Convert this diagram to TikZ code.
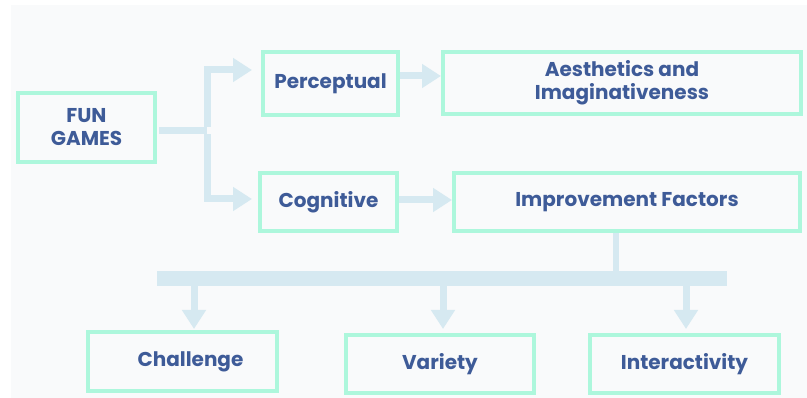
\documentclass[tikz,border=0pt]{standalone}
\usepackage{fontspec}
\setmainfont{Poppins}
\usetikzlibrary{arrows.meta}
\definecolor{mint}{HTML}{ADF7DC}
\definecolor{ink}{HTML}{3E5B98}
\definecolor{conn}{HTML}{D6E9F1}
\definecolor{bg}{HTML}{F9FAFB}
\tikzset{
  box/.style={draw=mint, line width=4pt, inner sep=0pt, align=center,
    text=ink, font=\fontsize{20}{23}\selectfont\bfseries},
  link/.style={draw=conn, line width=7pt},
  arr/.style={link, -{Triangle[length=19pt,width=23pt]}},
}
\begin{document}
\begin{tikzpicture}[x=1pt,y=-1pt]
\useasboundingbox (0,0) rectangle (807,398);
\fill[bg] (11,5) rectangle (807,398);
\node[box, minimum width=137pt, minimum height=69pt] (fun) at (86.5,127.5) {FUN\\GAMES};
\node[box, minimum width=135pt, minimum height=63pt] (perc) at (330.5,83.5) {Perceptual};
\node[box, minimum width=137pt, minimum height=58pt] (cog) at (328.5,202) {Cognitive};
\node[box, minimum width=358pt, minimum height=62pt] (aes) at (622,83) {Aesthetics and\\Imaginativeness};
\node[box, minimum width=346pt, minimum height=58pt] (imp) at (627,202) {Improvement Factors};
\node[box, minimum width=189pt, minimum height=59pt] (cha) at (182.5,361.5) {\hspace*{16pt}Challenge};
\node[box, minimum width=188pt, minimum height=58pt] (var) at (440,364) {Variety};
\node[box, minimum width=189pt, minimum height=58pt] (int) at (684.5,364) {Interactivity};
\node[fill=conn, inner sep=0pt, minimum width=570pt, minimum height=15pt] (bar) at (442,278.5) {};
\coordinate (j) at (207,131);
\draw[link] ([xshift=2pt]fun.east |- j) -- (j);
\draw[arr, shorten >=9pt] ([yshift=3.5pt]j) |- ([yshift=13.5pt]perc.west);
\draw[arr, shorten >=6pt] ([yshift=-3.5pt]j) |- ([yshift=3pt]cog.west);
\draw[arr] ([yshift=7.5pt]perc.east) -- ([yshift=7.5pt]perc.east -| aes.west);
\draw[arr] ([yshift=2pt]cog.east) -- ([yshift=2pt]cog.east -| imp.west);
\draw[draw=conn, line width=6pt] (imp.south -| 616,0) -- (bar.north -| 616,0);
\draw[arr, shorten >=1pt] (bar.south -| 194,0) -- (cha.north -| 194,0);
\draw[arr, shorten >=4pt] (bar.south -| 443,0) -- (var.north -| 443,0);
\draw[arr, shorten >=4pt] (bar.south -| 686,0) -- (int.north -| 686,0);
\end{tikzpicture}
\end{document}
